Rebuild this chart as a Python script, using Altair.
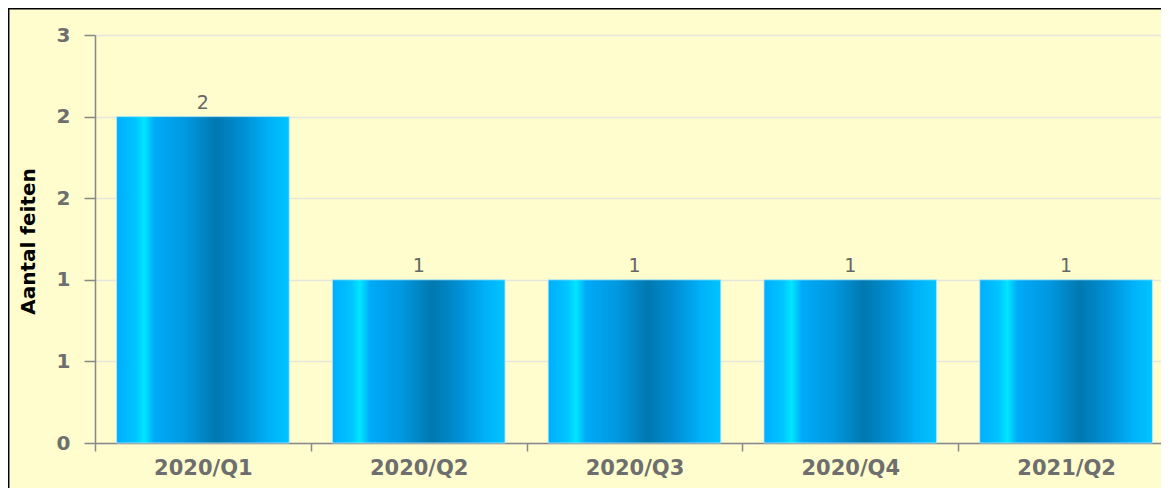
import altair as alt
import pandas as pd

categories = ["2020/Q1", "2020/Q2", "2020/Q3", "2020/Q4", "2021/Q2"]
values = [2, 1, 1, 1, 1]
y_ticks = [0, 0.5, 1, 1.5, 2, 2.5]

df = pd.DataFrame({"kwartaal": categories, "aantal": values})

FONT = "DejaVu Sans"
BG = "#FFFDCD"

gradient = alt.Gradient(
    gradient="linear",
    x1=0, x2=1, y1=0, y2=0,
    stops=[
        alt.GradientStop(color="#00AEFF", offset=0.0),
        alt.GradientStop(color="#00C4FF", offset=0.11),
        alt.GradientStop(color="#00E6FF", offset=0.16),
        alt.GradientStop(color="#00AAF8", offset=0.22),
        alt.GradientStop(color="#0098E0", offset=0.40),
        alt.GradientStop(color="#0078B0", offset=0.58),
        alt.GradientStop(color="#0092D8", offset=0.75),
        alt.GradientStop(color="#00B0F8", offset=0.88),
        alt.GradientStop(color="#00C4FF", offset=1.0),
    ],
)

x_enc = alt.X(
    "kwartaal:N",
    sort=categories,
    title=None,
    scale=alt.Scale(paddingInner=0, paddingOuter=0),
    axis=alt.Axis(
        tickBand="extent",
        labelAngle=0,
        tickSize=8,
        tickColor="#888888",
        tickWidth=1.5,
        domainColor="#888888",
        domainWidth=1.5,
        labelFont=FONT,
        labelFontWeight="bold",
        labelFontSize=21,
        labelColor="#6E6E6E",
        labelPadding=6,
        grid=False,
    ),
)

y_enc = alt.Y(
    "aantal:Q",
    scale=alt.Scale(domain=[0, 2.5], nice=False),
    axis=alt.Axis(
        values=y_ticks,
        labelExpr="'' + round(datum.value)",
        title="Aantal feiten",
        titleFont=FONT,
        titleFontWeight="bold",
        titleFontSize=20,
        titleColor="#000000",
        titleAngle=270,
        titleX=-57,
        titleY=206,
        titleAlign="center",
        titleBaseline="bottom",
        tickSize=11,
        tickColor="#888888",
        tickWidth=1.5,
        domainColor="#888888",
        domainWidth=1.5,
        labelFont=FONT,
        labelFontWeight="bold",
        labelFontSize=20,
        labelColor="#6E6E6E",
        labelPadding=14,
        gridColor="#E6E6E0",
        gridWidth=1.5,
    ),
)

bars = alt.Chart(df).mark_bar(
    color=gradient,
    width=alt.RelativeBandSize(0.8),
    stroke="#B5E8F8",
    strokeWidth=0.8,
).encode(x=x_enc, y=y_enc)

labels = alt.Chart(df).mark_text(
    baseline="bottom",
    dy=-4,
    font=FONT,
    fontSize=19,
    color="#666666",
).encode(
    x=alt.X("kwartaal:N", sort=categories),
    y="aantal:Q",
    text="aantal:Q",
)

one = alt.Data(values=[{"a": 1}])
border_left = alt.Chart(one).mark_rule(color="#000000", strokeWidth=1.5).encode(
    x=alt.value(-86.3), y=alt.value(-27), y2=alt.value(460)
)
border_top = alt.Chart(one).mark_rule(color="#000000", strokeWidth=1.5).encode(
    x=alt.value(-87), x2=alt.value(1085), y=alt.value(-26.3)
)

chart = (
    alt.layer(bars, labels, border_left, border_top)
    .properties(
        width=1079,
        height=408,
        autosize=alt.AutoSizeParams(type="none"),
        padding={"left": 87, "top": 27, "right": -13, "bottom": 45},
        background=BG,
    )
    .configure_view(stroke="transparent")
)

chart.save("out.html", embed_options={"renderer": "svg", "actions": False})
